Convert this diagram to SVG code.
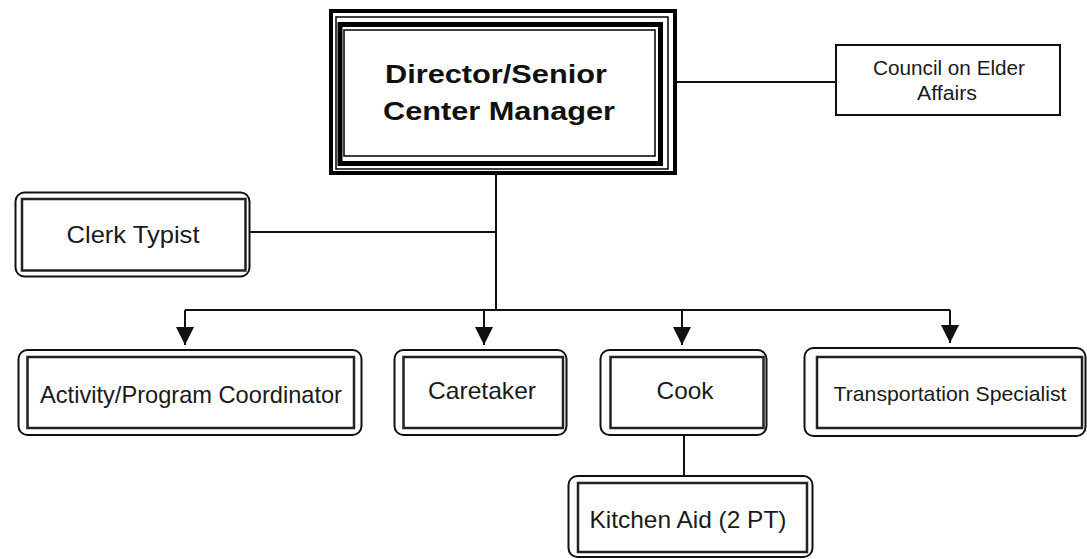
<svg xmlns="http://www.w3.org/2000/svg" width="1087" height="559" viewBox="0 0 1087 559">
<style>
.bg{fill:#fff}
.line{fill:none;stroke:#111;stroke-width:2}
.outer{fill:#fff;stroke:#111;stroke-width:2}
.inner{fill:#fff;stroke:#222;stroke-width:2.5}
.t{font-family:"Liberation Sans",Arial,sans-serif;font-size:24px;fill:#1a1a1a;text-anchor:middle}
.tb{font-family:"Liberation Sans",Arial,sans-serif;font-size:25px;font-weight:bold;fill:#111;text-anchor:middle}
</style>
<defs>
<marker id="arr" viewBox="0 0 18 18" refX="18" refY="9" markerWidth="18" markerHeight="18" markerUnits="userSpaceOnUse" orient="auto">
<path d="M0,0 L18,9 L0,18 z" fill="#111"/>
</marker>
</defs>
<rect class="bg" x="0" y="0" width="1087" height="559"/>
<g id="connectors">
<path class="line" d="M496,175 V310"/>
<path class="line" d="M250,232 H496"/>
<path class="line" d="M677,82 H836"/>
<path class="line" d="M185,310 H950"/>
<path class="line" d="M185,310 V345" marker-end="url(#arr)"/>
<path class="line" d="M484,310 V345" marker-end="url(#arr)"/>
<path class="line" d="M682,310 V345" marker-end="url(#arr)"/>
<path class="line" d="M950,310 V343" marker-end="url(#arr)"/>
<path class="line" d="M684,435 V483"/>
</g>
<g id="director">
<rect x="331" y="11" width="344" height="162" fill="#fff" stroke="#000" stroke-width="4"/>
<rect x="336" y="17" width="332" height="152" fill="none" stroke="#000" stroke-width="1.5"/>
<rect x="340" y="24.5" width="320.5" height="139" fill="none" stroke="#000" stroke-width="5"/>
<rect x="344" y="30" width="311" height="126" fill="none" stroke="#000" stroke-width="1.5"/>
<text class="tb" x="496" y="83" textLength="222" lengthAdjust="spacingAndGlyphs">Director/Senior</text>
<text class="tb" x="499" y="120" textLength="232" lengthAdjust="spacingAndGlyphs">Center Manager</text>
</g>
<g id="council">
<rect x="836" y="45" width="224" height="70" fill="#fff" stroke="#111" stroke-width="2"/>
<text class="t" x="949" y="75" style="font-size:20px" textLength="152" lengthAdjust="spacingAndGlyphs">Council on Elder</text>
<text class="t" x="947" y="100" style="font-size:20px" textLength="60" lengthAdjust="spacingAndGlyphs">Affairs</text>
</g>
<g id="clerk">
<rect class="outer" x="15.5" y="192.5" width="234" height="84" rx="9"/>
<rect class="inner" x="22" y="199" width="223.5" height="71.5"/>
<text class="t" x="133" y="243" textLength="133" lengthAdjust="spacingAndGlyphs">Clerk Typist</text>
</g>
<g id="activity">
<rect class="outer" x="18.5" y="350" width="343" height="85" rx="9"/>
<rect class="inner" x="27.5" y="357" width="326.5" height="71"/>
<text class="t" x="191" y="403" textLength="302" lengthAdjust="spacingAndGlyphs">Activity/Program Coordinator</text>
</g>
<g id="caretaker">
<rect class="outer" x="394.5" y="350" width="172" height="85" rx="9"/>
<rect class="inner" x="403.5" y="357" width="159.5" height="71"/>
<text class="t" x="482" y="399" textLength="108" lengthAdjust="spacingAndGlyphs">Caretaker</text>
</g>
<g id="cook">
<rect class="outer" x="600.5" y="350" width="166" height="85" rx="9"/>
<rect class="inner" x="610.5" y="357" width="153" height="71"/>
<text class="t" x="685" y="399" textLength="57" lengthAdjust="spacingAndGlyphs">Cook</text>
</g>
<g id="transportation">
<rect class="outer" x="804.5" y="348" width="281" height="88" rx="9"/>
<rect class="inner" x="817" y="357" width="265" height="71"/>
<text class="t" x="950" y="401" style="font-size:21px" textLength="233" lengthAdjust="spacingAndGlyphs">Transportation Specialist</text>
</g>
<g id="kitchen">
<rect class="outer" x="568.5" y="476" width="244" height="81" rx="9"/>
<rect class="inner" x="578" y="483" width="229" height="69"/>
<text class="t" x="688" y="528" textLength="197" lengthAdjust="spacingAndGlyphs">Kitchen Aid (2 PT)</text>
</g>
</svg>
